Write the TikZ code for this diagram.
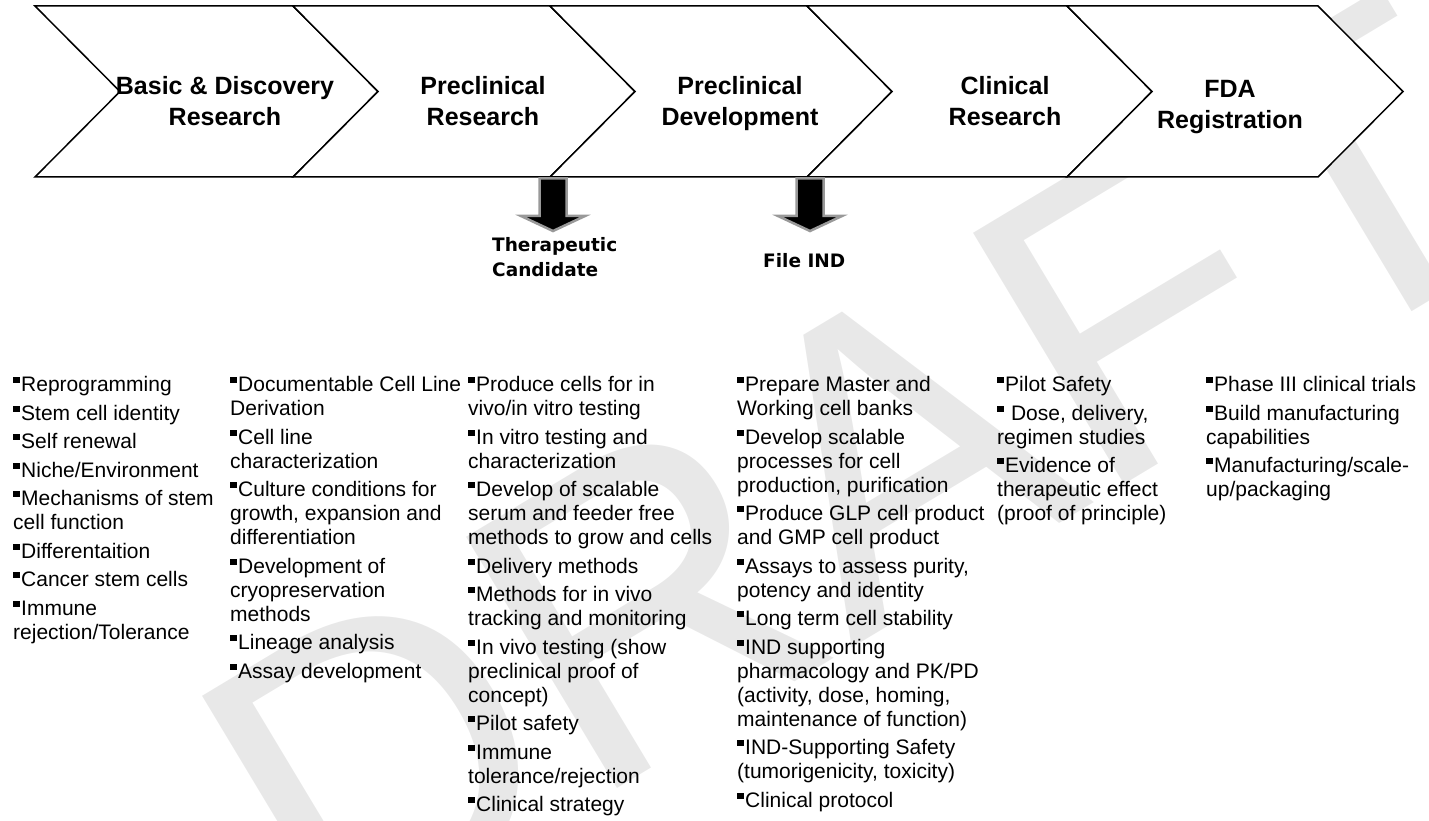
\documentclass[tikz,border=0pt]{standalone}
\usepackage{fontspec}
\setmainfont{Liberation Sans}
\newfontfamily\verdfont{DejaVu Sans}
\usetikzlibrary{calc}

\newcommand\sqbul{\strut\rule[0.4em]{0.3em}{0.3em}\hspace{0.08em}}

\begin{document}
\begin{tikzpicture}[
  x=1pt, y=-1pt,
  chev/.style={draw, line width=1.5pt, fill=white, line join=miter},
  stage/.style={font=\fontsize{25}{31}\selectfont\bfseries, align=center, anchor=north, inner sep=0pt},
  steplist/.style={font=\fontsize{21}{24}\selectfont, align=left, anchor=north west, inner sep=0pt},
  milestone/.style={font=\verdfont\fontsize{18.5}{25}\selectfont\bfseries, align=left, anchor=north west, inner sep=0pt},
  blockarrow/.style={fill=black, draw=black!40, line width=2.5pt, line join=miter}
]
\useasboundingbox (0,0) rectangle (1429,821);

% Watermark
\node[rotate=31, text=black!9, font=\fontsize{426}{426}\selectfont] (draft) at (857,474) {DRAFT};

% Chevrons
\foreach \l/\r in {35/293, 293/550, 550/807, 807/1067, 1067/1318}
  \draw[chev] (\l,6) -- (\r,6) -- (\r+85,91.5) -- (\r,177) -- (\l,177) -- (\l+85,91.5) -- cycle;

\node[stage] (basic) at (225,76) {Basic \& Discovery\\Research};
\node[stage] (precres) at (483,76) {Preclinical\\Research};
\node[stage] (precdev) at (740,76) {Preclinical\\Development};
\node[stage] (clin) at (1005,76) {Clinical\\Research};
\node[stage] (fda) at (1230,80) {FDA\\Registration};

% Milestones
\node[milestone] (cand) at (492,237) {Therapeutic\\Candidate};
\node[milestone] (ind) at (763,253) {File IND};

\coordinate (a1) at (553,177);
\coordinate (a2) at (810,177);
\foreach \a in {a1,a2}
  \draw[blockarrow] ($(\a)+(-13.5,1.5)$) -- ($(\a)+(13.5,1.5)$) -- ($(\a)+(13.5,39)$) -- ($(\a)+(32,39)$)
    -- ($(\a)+(0,54)$) -- ($(\a)+(-32,39)$) -- ($(\a)+(-13.5,39)$) -- cycle;

% Activities
\node[steplist] (list1) at (13,374.7) {\sqbul Reprogramming\\[4.5pt]
  \sqbul Stem cell identity\\[4.5pt]
  \sqbul Self renewal\\[4.5pt]
  \sqbul Niche/Environment\\[4.5pt]
  \sqbul Mechanisms of stem\\cell function\\[4.5pt]
  \sqbul Differentaition\\[4.5pt]
  \sqbul Cancer stem cells\\[4.5pt]
  \sqbul Immune\\rejection/Tolerance};
\node[steplist] (list2) at (230,374.7) {\sqbul Documentable Cell Line\\Derivation\\[4.5pt]
  \sqbul Cell line\\characterization\\[4.5pt]
  \sqbul Culture conditions for\\growth, expansion and\\differentiation\\[4.5pt]
  \sqbul Development of\\cryopreservation\\methods\\[4.5pt]
  \sqbul Lineage analysis\\[4.5pt]
  \sqbul Assay development};
\node[steplist] (list3) at (468,374.7) {\sqbul Produce cells for in\\vivo/in vitro testing\\[4.5pt]
  \sqbul In vitro testing and\\characterization\\[4.5pt]
  \sqbul Develop of scalable\\serum and feeder free\\methods to grow and cells\\[4.5pt]
  \sqbul Delivery methods\\[4.5pt]
  \sqbul Methods for in vivo\\tracking and monitoring\\[4.5pt]
  \sqbul In vivo testing (show\\preclinical proof of\\concept)\\[4.5pt]
  \sqbul Pilot safety\\[4.5pt]
  \sqbul Immune\\tolerance/rejection\\[4.5pt]
  \sqbul Clinical strategy};
\node[steplist] (list4) at (737,374.7) {\sqbul Prepare Master and\\Working cell banks\\[4.5pt]
  \sqbul Develop scalable\\processes for cell\\production, purification\\[4.5pt]
  \sqbul Produce GLP cell product\\and GMP cell product\\[4.5pt]
  \sqbul Assays to assess purity,\\potency and identity\\[4.5pt]
  \sqbul Long term cell stability\\[4.5pt]
  \sqbul IND supporting\\pharmacology and PK/PD\\(activity, dose, homing,\\maintenance of function)\\[4.5pt]
  \sqbul IND-Supporting Safety\\(tumorigenicity, toxicity)\\[4.5pt]
  \sqbul Clinical protocol};
\node[steplist] (list5) at (997,374.7) {\sqbul Pilot Safety\\[4.5pt]
  \sqbul\ Dose, delivery,\\regimen studies\\[4.5pt]
  \sqbul Evidence of\\therapeutic effect\\(proof of principle)};
\node[steplist] (list6) at (1206,374.7) {\sqbul Phase III clinical trials\\[4.5pt]
  \sqbul Build manufacturing\\capabilities\\[4.5pt]
  \sqbul Manufacturing/scale-\\up/packaging};
\end{tikzpicture}
\end{document}
